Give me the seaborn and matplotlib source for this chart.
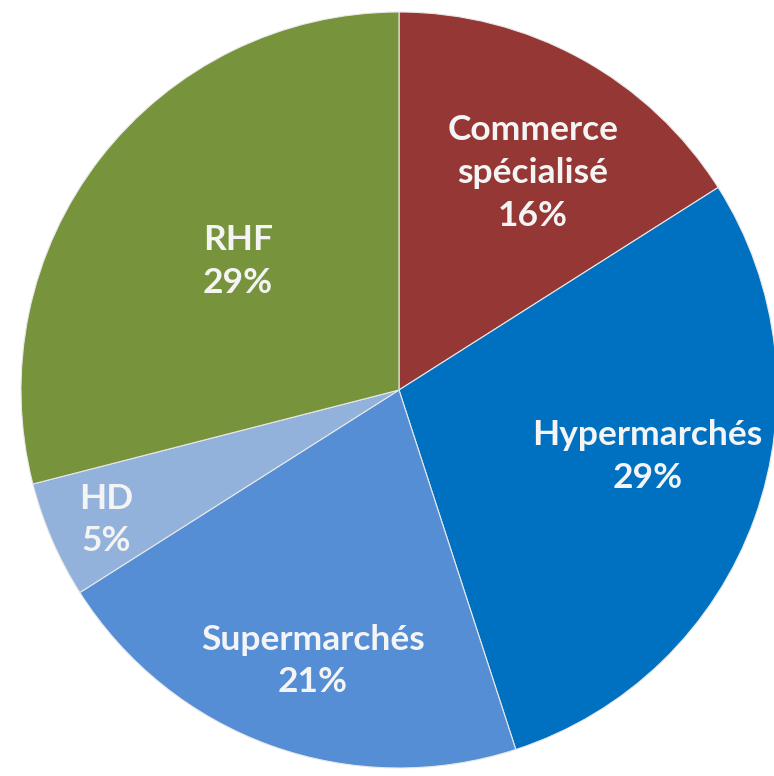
import seaborn as sns
import matplotlib
matplotlib.use("Agg")
import matplotlib.pyplot as plt

# part de marché par circuit (sens horaire depuis midi)
categories = ["Commerce\nspécialisé", "Hypermarchés", "Supermarchés", "HD", "RHF"]
values = [16, 29, 21, 5, 29]
colors = ["#953735", "#0070C0", "#558ED5", "#92B2DC", "#77933C"]
# position des étiquettes (coordonnées du disque)
label_pos = [(0.354, 0.575), (0.658, -0.177), (-0.228, -0.717), (-0.775, -0.344), (-0.426, 0.339)]

sns.set_style("white")
plt.rcParams['font.family'] = ['Lato', 'DejaVu Sans']

fig = plt.figure(figsize=(7.74, 7.76), dpi=100)
ax = fig.add_axes([0, 0, 1, 1])
pal = sns.color_palette(colors)
ax.pie(values, colors=pal, startangle=90, counterclock=False, radius=1,
       wedgeprops=dict(edgecolor="#e8e8e8", linewidth=0.8))

for name, v, (x, y) in zip(categories, values, label_pos):
    ax.text(x, y, "%s\n%d%%" % (name, v), ha="center", va="center",
            color="#f4f4f4", fontsize=25.5, fontweight="bold", linespacing=1.42)

ax.set_xlim(-399 / 378, 375 / 378)
ax.set_ylim(-386 / 378, 390 / 378)
ax.set_aspect("auto")
ax.axis("off")
fig.savefig("out.png", dpi=100, facecolor="white")
